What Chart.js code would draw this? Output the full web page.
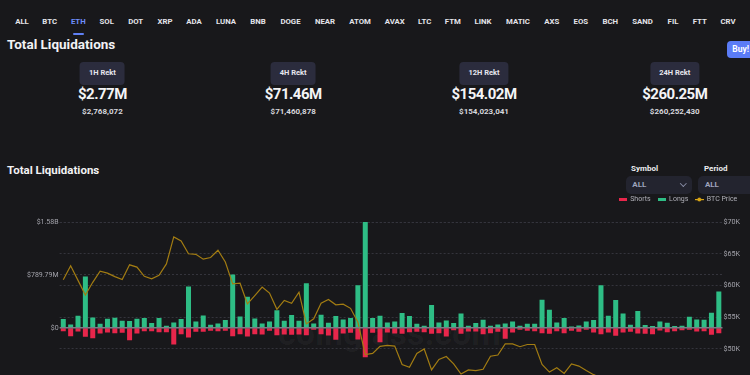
<!DOCTYPE html>
<html>
<head>
<meta charset="utf-8">
<script src="https://cdn.jsdelivr.net/npm/chart.js@4.4.1/dist/chart.umd.min.js"></script>
<style>
  html,body{margin:0;padding:0;background:#18181b;}
  body{width:750px;height:375px;overflow:hidden;position:relative;font-family:Roboto,"Noto Sans",sans-serif;color:#f0f0f2;}
  .tab{position:absolute;top:18px;font-size:7.8px;line-height:8px;font-weight:700;color:#e4e4ea;transform:translateX(-50%);white-space:nowrap;}
  .tab.on{color:#6e8efb;}
  .uline{position:absolute;left:73px;top:33.3px;width:10.5px;height:1.6px;border-radius:1px;background:#5f80f5;}
  h1,h2{position:absolute;margin:0;font-weight:700;color:#f2f2f4;white-space:nowrap;}
  h1{left:7px;top:37.6px;font-size:13.5px;line-height:13.5px;}
  h2{left:7px;top:164.7px;font-size:11.5px;line-height:11.5px;}
  .buy{position:absolute;left:726.7px;top:41px;width:34px;height:17px;border-radius:4px;background:#5b7cf6;color:#fff;font-size:8.5px;font-weight:700;line-height:17px;padding-left:5.6px;box-sizing:border-box;}
  .col{position:absolute;top:0;width:190.8px;text-align:center;}
  .lbl{position:absolute;left:50%;top:62.3px;transform:translateX(-50%);height:22.7px;line-height:22.7px;padding:0 9px;border-radius:4px;background:#2b2c3d;font-size:7.5px;font-weight:700;color:#e6e6ee;white-space:nowrap;}
  .big{position:absolute;left:0;right:0;top:87px;font-size:15px;line-height:15px;font-weight:700;letter-spacing:-0.5px;color:#f4f4f6;}
  .small{position:absolute;left:0;right:0;top:108.3px;font-size:8px;line-height:8px;font-weight:700;color:#d6d6dc;}
  .flabel{position:absolute;top:164.5px;font-size:8px;line-height:8px;font-weight:700;color:#ececf0;}
  .dd{position:absolute;top:175.7px;height:18px;border-radius:5px;background:#23242f;}
  .dd span{position:absolute;left:6.6px;top:5px;font-size:8px;line-height:8px;font-weight:700;color:#9ea3bd;}
  .chev{position:absolute;left:55px;top:5.5px;width:3.6px;height:3.6px;border-right:1px solid #8a8fa8;border-bottom:1px solid #8a8fa8;transform:rotate(45deg);}
  .mark{position:absolute;left:278px;top:316.4px;font-size:34px;line-height:34px;font-weight:700;color:rgba(255,255,255,0.04);white-space:nowrap;}
  #box{position:absolute;left:0;top:189px;width:750px;height:197px;}
</style>
</head>
<body>
<div id="tabs"></div>
<div class="uline"></div>
<h1>Total Liquidations</h1>
<div class="buy">Buy!</div>
<div id="stats"></div>
<h2>Total Liquidations</h2>
<div class="flabel" style="left:631px">Symbol</div>
<div class="flabel" style="left:704px">Period</div>
<div class="dd" style="left:625.7px;width:66.6px"><span>ALL</span><div class="chev"></div></div>
<div class="dd" style="left:698.3px;width:70px"><span>ALL</span></div>
<div class="mark">coinglass.com</div>
<div id="box"><canvas id="chart"></canvas></div>
<script>
// coin tabs
const tabs = ['ALL','BTC','ETH','SOL','DOT','XRP','ADA','LUNA','BNB','DOGE','NEAR','ATOM','AVAX','LTC','FTM','LINK','MATIC','AXS','EOS','BCH','SAND','FIL','FTT','CRV','UNI'];
const tabX = [22,49.7,78.3,106.7,135.7,165,194,226,258,290.5,325,360,394.7,424.7,452.8,483,518,551.8,580.8,610.3,642.5,673,699.7,728,760];

// rekt summary
const periods = ['1H Rekt','4H Rekt','12H Rekt','24H Rekt'];
const totalsShort = ['$2.77M','$71.46M','$154.02M','$260.25M'];
const totalsFull = ['$2,768,072','$71,460,878','$154,023,041','$260,252,430'];

// chart data, liquidations in $M, price in $
const longs = [130,50,180,765,155,60,135,150,105,100,135,145,70,145,30,80,130,615,95,185,
  45,65,115,795,170,465,140,65,95,260,105,190,105,665,65,195,75,175,125,145,
  635,1580,145,180,80,95,220,175,60,30,340,80,110,70,215,30,70,120,30,50,
  65,95,30,60,60,420,270,80,145,20,35,95,115,635,180,415,215,45,250,40,
  25,95,75,25,30,165,125,120,225,540];
const shorts = [-50,-125,-55,-135,-155,-85,-70,-80,-75,-185,-85,-50,-50,-65,-65,-250,-95,-145,-60,-60,
  -45,-50,-45,-125,-95,-130,-95,-100,-45,-110,-100,-105,-100,-110,-30,-95,-115,-180,-85,-75,
  -175,-440,-75,-215,-70,-85,-90,-65,-60,-65,-90,-80,-130,-35,-90,-55,-55,-95,-80,-60,
  -165,-70,-30,-45,-50,-80,-90,-50,-80,-45,-60,-30,-70,-95,-70,-120,-70,-60,-85,-90,
  -95,-40,-65,-50,-35,-30,-55,-50,-105,-80];
const btcPrice = [60900,63100,60800,58500,60500,62250,61950,61400,60950,63250,62900,61450,61050,61600,63400,67650,67000,65000,64900,64150,
  64400,65550,63700,60250,60350,57100,58400,59750,58800,56250,57650,57200,58950,53950,54750,57200,57800,56950,57050,56400,
  54200,49100,49300,50400,50550,50450,47550,47100,49300,50000,46700,48350,48800,47650,46050,46700,46600,46800,48850,49050,
  50800,50800,50350,50700,50700,47550,46350,47050,46150,47650,47300,46600,45950,45400,45100,44800,44600,44900,44500,44300,
  44600,44200,44000,44400,44100,43900,44200,44500,44300,44100];
const days = longs.map((v, i) => String(i + 1));

const leftTicks = {min: -789.79, max: 1579.58, step: 789.79};
const rightTicks = {min: 45000, max: 70000, step: 5000};

const RED = '#e8264b', GREEN = '#2ebd85', GOLD = '#a27c12';

tabs.forEach((t, i) => {
  const el = document.createElement('div');
  el.className = 'tab' + (t === 'ETH' ? ' on' : '');
  el.style.left = tabX[i] + 'px';
  el.textContent = t;
  document.getElementById('tabs').appendChild(el);
});

periods.forEach((p, i) => {
  const c = document.createElement('div');
  c.className = 'col';
  c.style.left = (7 + i * 190.8) + 'px';
  c.innerHTML = '<div class="lbl">' + p + '</div><div class="big">' + totalsShort[i] +
    '</div><div class="small">' + totalsFull[i] + '</div>';
  document.getElementById('stats').appendChild(c);
});

function icon(w, h, draw){
  const c = document.createElement('canvas');
  c.width = w; c.height = h;
  draw(c.getContext('2d'));
  return c;
}
const shortIcon = icon(8, 3, g => { g.fillStyle = RED; g.fillRect(0, 0, 8, 3); });
const longIcon = icon(8, 3, g => { g.fillStyle = GREEN; g.fillRect(0, 0, 8, 3); });
const priceIcon = icon(9, 5, g => {
  g.fillStyle = '#d9a514';
  g.fillRect(0, 2, 9, 1.2);
  g.beginPath(); g.arc(4.5, 2.5, 2, 0, Math.PI * 2); g.fill();
});

function fmtUsd(v){
  const a = Math.abs(v), s = v < 0 ? '-' : '';
  if (a < 0.001) return '$0';
  if (a >= 1000) return s + '$' + (a / 1000).toFixed(2) + 'B';
  return s + '$' + a.toFixed(2) + 'M';
}

const legendGap = {
  id: 'legendGap',
  beforeInit(chart){
    const fit = chart.legend.fit;
    chart.legend.fit = function(){ fit.call(this); this.height += 9; };
  }
};
const zeroLine = {
  id: 'zeroLine',
  afterDatasetsDraw(chart){
    const {ctx, chartArea, scales} = chart;
    const y = scales.y.getPixelForValue(0);
    ctx.save();
    ctx.strokeStyle = '#7c7c86';
    ctx.lineWidth = 1.5;
    ctx.beginPath();
    ctx.moveTo(chartArea.left, y);
    ctx.lineTo(chartArea.right, y);
    ctx.stroke();
    ctx.restore();
  }
};

Chart.defaults.font.family = 'Roboto';

new Chart(document.getElementById('chart').getContext('2d'), {
  type: 'bar',
  data: {
    labels: days,
    datasets: [
      {label: 'Shorts', data: shorts, backgroundColor: RED, order: 1, barPercentage: 0.68, categoryPercentage: 1},
      {label: 'Longs', data: longs, backgroundColor: GREEN, order: 1, barPercentage: 0.68, categoryPercentage: 1},
      {label: 'BTC Price', type: 'line', data: btcPrice, yAxisID: 'y1', borderColor: GOLD, borderWidth: 1.2,
        pointRadius: 0, tension: 0, order: 0}
    ]
  },
  options: {
    responsive: true,
    maintainAspectRatio: false,
    animation: false,
    layout: {padding: {left: 0, right: 5.7, top: 0, bottom: 0}},
    plugins: {
      tooltip: {enabled: false},
      legend: {
        position: 'top',
        align: 'end',
        labels: {
          usePointStyle: true,
          pointStyleWidth: 8,
          padding: 7,
          color: '#b0b0b8',
          font: {size: 7},
          generateLabels: () => [
            {text: 'Shorts', pointStyle: shortIcon, fontColor: '#b0b0b8', datasetIndex: 0},
            {text: 'Longs', pointStyle: longIcon, fontColor: '#b0b0b8', datasetIndex: 1},
            {text: 'BTC Price', pointStyle: priceIcon, fontColor: '#b0b0b8', datasetIndex: 2}
          ]
        }
      }
    },
    scales: {
      x: {stacked: true, display: false},
      y: {
        stacked: true,
        position: 'left',
        min: leftTicks.min, max: leftTicks.max,
        afterFit(s){ s.width = 59.6; },
        ticks: {stepSize: leftTicks.step, padding: 1, color: '#a3a3ab', font: {size: 7}, callback: v => fmtUsd(v)},
        grid: {color: '#34343c', drawTicks: false},
        border: {display: false, dash: [2, 2]}
      },
      y1: {
        position: 'right',
        min: rightTicks.min, max: rightTicks.max,
        afterFit(s){ s.width = 21.8; },
        ticks: {stepSize: rightTicks.step, padding: 1, color: '#a3a3ab', font: {size: 7.2}, callback: v => '$' + (v / 1000) + 'K'},
        grid: {color: '#34343c', drawTicks: false},
        border: {display: false, dash: [2, 2]}
      }
    }
  },
  plugins: [legendGap, zeroLine]
});
</script>
</body>
</html>
